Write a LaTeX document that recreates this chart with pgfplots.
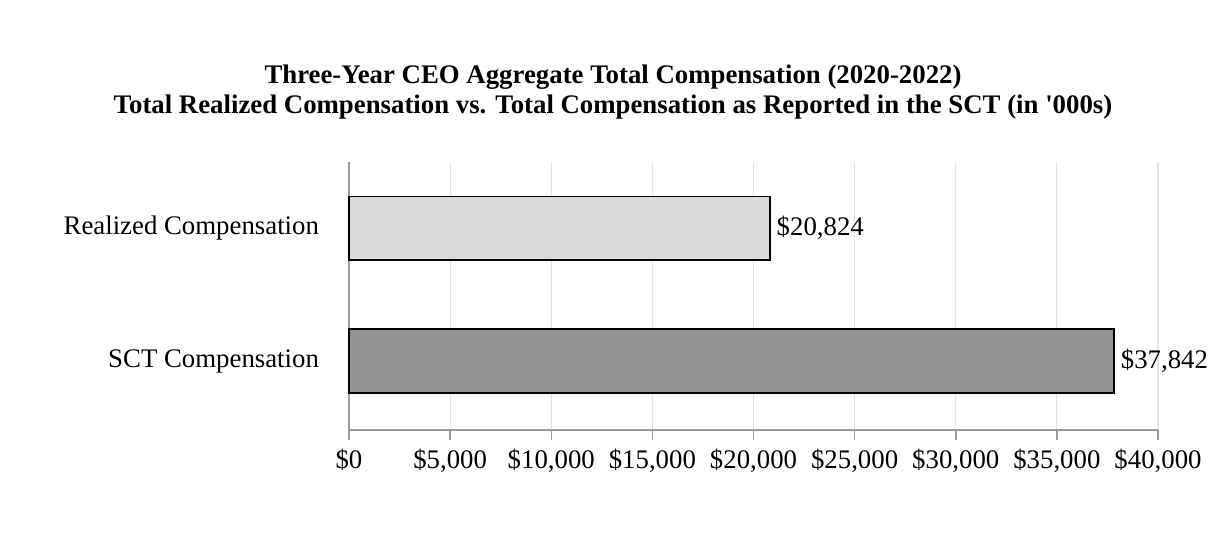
\documentclass[border=0pt]{standalone}
\usepackage{pgfplots}
\pgfplotsset{compat=1.18}
\usepackage{fontspec}
\setmainfont{Liberation Serif}
\definecolor{realfill}{HTML}{D9D9D9}
\definecolor{sctfill}{HTML}{939393}
\definecolor{gridgray}{HTML}{E4E4E4}
\definecolor{axisgray}{HTML}{9A9A9A}
\begin{document}
\begin{tikzpicture}[x=1pt,y=1pt]
  % fixed page size: 1226x544 px at 0.5pt per px
  \path[use as bounding box] (0,0) rectangle (613,272);
  \node[align=center, font=\fontsize{13.4}{15}\selectfont\bfseries] at (306.5,226)
    {Three-Year CEO Aggregate Total Compensation (2020-2022)\\
     Total Realized Compensation vs. Total Compensation as Reported in the SCT (in \textquotesingle000s)};
  \begin{axis}[
    at={(174.5pt,57pt)}, anchor=south west,
    scale only axis,
    width=404.5pt, height=134pt,
    xbar, bar width=31.75pt, bar shift=0pt,
    xmin=0, xmax=40000,
    ymin=-0.52, ymax=1.50,
    scaled x ticks=false,
    xtick={0,5000,...,40000},
    xticklabels={{\$0},{\$5,000},{\$10,000},{\$15,000},{\$20,000},{\$25,000},{\$30,000},{\$35,000},{\$40,000}},
    ytick={0,1},
    yticklabels={SCT Compensation,Realized Compensation},
    axis x line*=bottom, axis y line*=left,
    axis line style={axisgray, line width=0.75pt, -},
    x tick style={axisgray, line width=0.75pt},
    y tick style={draw=none},
    tick align=outside, major tick length=5pt,
    xmajorgrids, grid style={gridgray, line width=0.6pt},
    tick label style={font=\fontsize{13.4}{16}\selectfont},
    yticklabel style={xshift=-6.5pt},
    xticklabel style={yshift=-1pt},
    nodes near coords, point meta=explicit symbolic,
    nodes near coords style={font=\fontsize{13.4}{16}\selectfont, anchor=west, xshift=-0.5pt},
    clip=false,
  ]
    \addplot[draw=black, line width=0.9pt, fill=realfill] coordinates {(20824,1) [\$20,824]};
    \addplot[draw=black, line width=0.9pt, fill=sctfill] coordinates {(37842,0) [\$37,842]};
  \end{axis}
\end{tikzpicture}
\end{document}
